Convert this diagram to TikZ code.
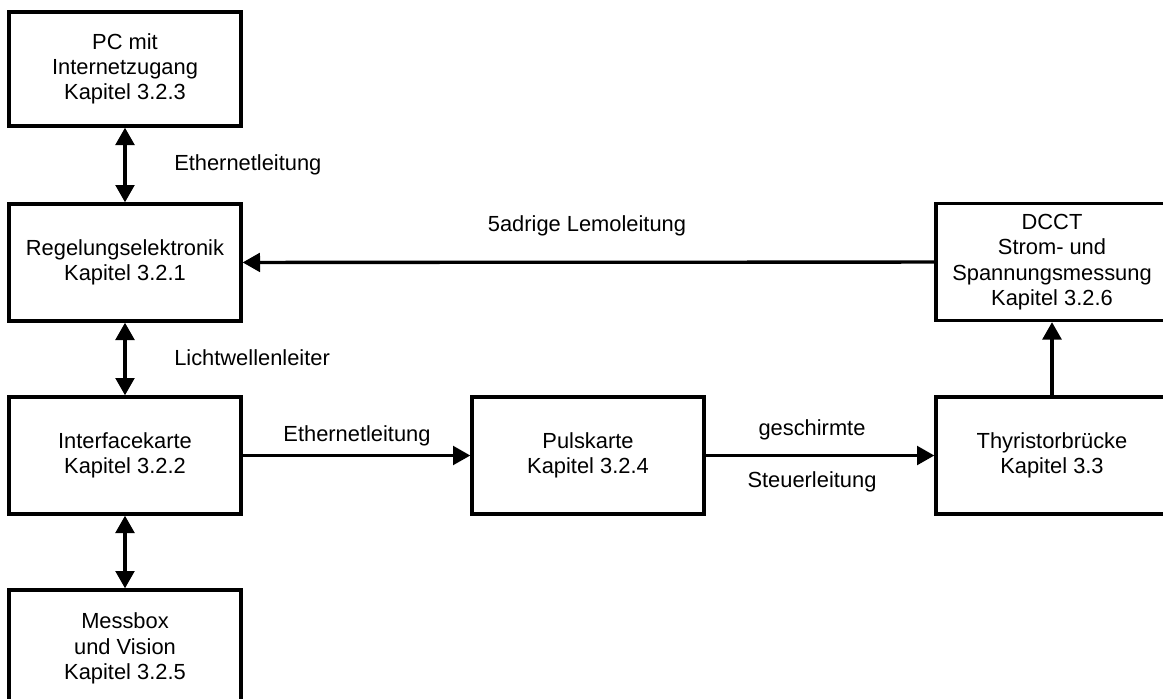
\documentclass[tikz,border=0pt]{standalone}
\usepackage{fontspec}
\setmainfont{Liberation Sans}
\usetikzlibrary{arrows.meta}
\begin{document}
\begin{tikzpicture}[x=0.75pt,y=-0.75pt,
  blk/.style={draw,line width=2.5pt,minimum width=174pt,minimum height=87.75pt,align=center,font=\fontsize{16.4}{19}\selectfont,inner sep=0pt},
  lbl/.style={font=\fontsize{16.4}{19}\selectfont,inner sep=0pt},
  conn/.style={line width=2.5pt,-{Triangle[length=13pt,width=14pt]}},
  bconn/.style={line width=2.5pt,{Triangle[length=13pt,width=14pt]}-{Triangle[length=13pt,width=14pt]}}]
\useasboundingbox (0,0) rectangle (1163,699);
\begin{scope}
\clip (0,0) rectangle (1163,699);
\node[blk,minimum height=85.5pt] (pc) at (125,69) {PC mit\\Internetzugang\\Kapitel 3.2.3};
\node[blk] (reg) at (125,262.5) {Regelungselektronik\\Kapitel 3.2.1};
\node[blk] (ifk) at (125,455.5) {Interfacekarte\\Kapitel 3.2.2};
\node[blk] (mess) at (125,648.5) {Messbox\\und Vision\\Kapitel 3.2.5};
\node[blk] (puls) at (588,455.5) {Pulskarte\\Kapitel 3.2.4};
\node[blk] (thy) at (1052,455.5) {Thyristorbrücke\\Kapitel 3.3};
\node[blk] (dcct) at (1052,262) {DCCT\\Strom- und\\Spannungsmessung\\Kapitel 3.2.6};
\end{scope}
\draw[bconn] (pc) -- (reg);
\draw[bconn] (reg) -- (ifk);
\draw[bconn] (ifk) -- (mess);
\draw[conn] (ifk) -- (puls);
\draw[conn] (puls) -- (thy);
\draw[conn] (thy) -- (dcct);
\draw[conn] (dcct) -- (reg);
\node[lbl,anchor=west] (l1) at (174,165) {Ethernetleitung};
\node[lbl] (l2) at (587,226) {5adrige Lemoleitung};
\node[lbl,anchor=west] (l3) at (174,358) {Lichtwellenleiter};
\node[lbl] (l4) at (357,436) {Ethernetleitung};
\node[lbl] (l5) at (812,430) {geschirmte};
\node[lbl] (l6) at (812,482) {Steuerleitung};
\end{tikzpicture}
\end{document}
